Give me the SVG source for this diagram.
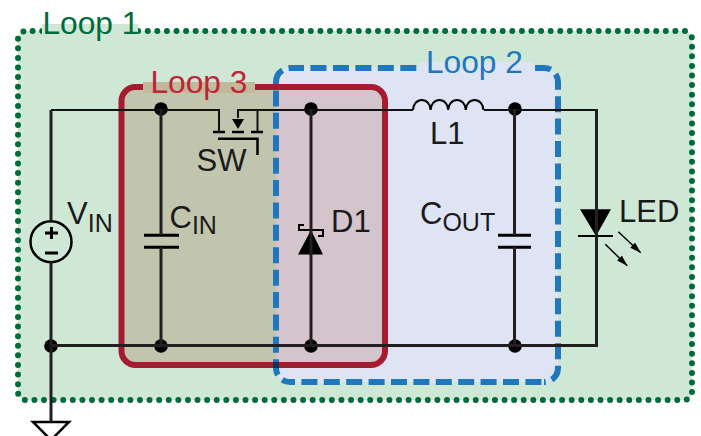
<svg xmlns="http://www.w3.org/2000/svg" width="701" height="436" viewBox="0 0 701 436">
<style>
text{font-family:"Liberation Sans",Arial,sans-serif;font-size:31px;fill:#1a1a1a}
tspan{font-size:25px}
.l{font-size:31.700px}
.w{fill:none;stroke:#231f20;stroke-width:3}
.n{fill:none;stroke:#111;stroke-width:2}
.t{fill:none;stroke:#000;stroke-width:2.500}
.p{fill:none;stroke:#000;stroke-width:3}
.d{fill:#000}
.m{fill:none;stroke:#000;stroke-width:1.500}
.b{fill:none;stroke:#1f77bd;stroke-width:6;stroke-dasharray:16 6.400}
</style>
<defs><marker id="a" markerWidth="11" markerHeight="7" refX="11" refY="3.500" orient="auto" markerUnits="userSpaceOnUse" viewBox="0 0 11 7"><path d="M0 0L11 3.500L0 7z" fill="#000"/></marker></defs>
<g id="loop1"><rect x="18" y="31" width="674" height="369" rx="8" fill="#cfe8d6"/>
<rect x="18" y="31" width="674" height="369" rx="8" fill="none" stroke="#006b3c" stroke-width="6" stroke-linecap="round" stroke-dasharray="0 9.594" stroke-dashoffset="3"/>
<rect x="42" y="24" width="96" height="12" fill="#cfe8d6"/>
<text class="l" x="42.500" y="34" style="fill:#006b3c">Loop 1</text></g>
<g id="loop3"><rect x="121.500" y="87" width="263.500" height="278" rx="14" fill="#c2c5ae"/></g>
<g id="loop2"><rect x="276" y="68" width="282" height="314" rx="14" fill="#dfe4f4"/>
<path d="M276 87H371a14 14 0 0 1 14 14V351a14 14 0 0 1 -14 14H276z" fill="#d4c4cc"/></g>
<g id="loop3-outline"><rect x="121.500" y="87" width="263.500" height="278" rx="14" fill="none" stroke="#a51c30" stroke-width="6"/>
<rect x="143" y="82" width="112" height="11" fill="#c2b99a"/>
<text class="l" x="150.500" y="92.500" style="fill:#bf2438">Loop 3</text></g>
<g id="loop2-outline">
<path class="b" d="M290 68H544a14 14 0 0 1 14 14V368a14 14 0 0 1 -14 14" stroke-dashoffset="2" style="stroke-dasharray:16 6.460;stroke-dashoffset:2"/>
<path class="b" d="M541.400 382H290"/>
<path class="b" d="M290 382a14 14 0 0 1 -14 -14V82a14 14 0 0 1 14 -14" style="stroke-dashoffset:7.800"/>
<rect x="273" y="362" width="6" height="6" fill="#1b2f55"/>
<rect x="420" y="62" width="112" height="11" fill="#dfe4f4"/>
<text class="l" x="426" y="72.500" style="fill:#1f77bd">Loop 2</text></g>
<g id="vin"><circle cx="51" cy="241.700" r="20.500" fill="none" stroke="#000" stroke-width="2.500"/>
<path class="p" d="M51.500 227V239M45 233H58M45 253H58"/>
<text x="67" y="224">V<tspan dy="8">IN</tspan></text></g>
<g id="gnd"><path d="M33 422H69L51 440z" fill="none" stroke="#000" stroke-width="2.500"/></g>
<g id="cin"><circle cx="161" cy="109" r="6.800" class="d"/><circle cx="161" cy="346" r="6.800" class="d"/>
<path class="p" d="M144 235.300H179M144 247.300H179"/>
<text x="169.500" y="228">C<tspan dy="6">IN</tspan></text></g>
<g id="sw"><path class="t" d="M213 132H225M232 132H244M251 132H263M218 138.700H257.500V155"/>
<path class="d" d="M232 119H244L238 129z"/>
<text x="196.500" y="170.500">SW</text></g>
<g id="d1"><circle cx="311" cy="109" r="6.800" class="d"/><circle cx="311" cy="346" r="6.800" class="d"/>
<path class="d" d="M298 254.500H323L311 230z"/>
<path d="M304 225H299V230H323V236H318" fill="none" stroke="#000" stroke-width="2"/>
<text x="331" y="231.500">D1</text></g>
<g id="l1"><path d="M413 110a8.800 10 0 0 1 17.600 0a8.800 10 0 0 1 17.600 0a8.800 10 0 0 1 17.600 0a8.800 10 0 0 1 17.600 0" fill="none" stroke="#000" stroke-width="2"/>
<text x="430" y="143.500">L1</text></g>
<g id="cout"><circle cx="515" cy="109" r="6.800" class="d"/><circle cx="515" cy="346" r="6.800" class="d"/>
<path class="p" d="M498 235.300H531M498 247.300H531"/>
<text x="420" y="224">C<tspan dy="6.500">OUT</tspan></text></g>
<g id="led"><path class="d" d="M580 209.300H611L596 236z"/>
<path d="M578 236H613" stroke="#000" stroke-width="2"/>
<path class="m" d="M618.300 231.700L640.700 252.700" marker-end="url(#a)"/><path class="m" d="M605.300 244.300L627.300 265.700" marker-end="url(#a)"/>
<text x="619" y="222">LED</text></g>
<g id="node-vin"><circle cx="51" cy="346" r="6.800" class="d"/></g>
<g id="connectors">
<path class="n" d="M51 110H219V132M238 118V110H413M484 110H597M257.500 110V132"/>
<path class="w" d="M51 110V221M51 262V422"/>
<path class="w" d="M51 345.500H596.500V109"/>
<path class="w" d="M161 109V235M161 247V346"/>
<path class="w" d="M311 109V346"/>
<path class="w" d="M514.500 109V235M514.500 247V346"/>
</g>
</svg>
